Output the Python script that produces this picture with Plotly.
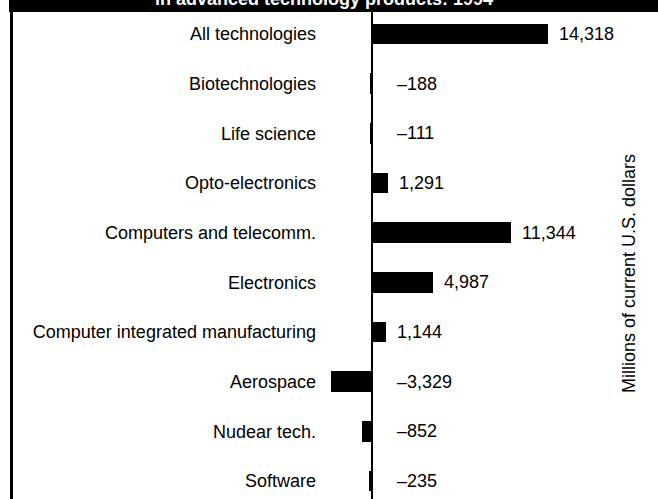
import plotly.graph_objects as go

# Trade balance by technology area, 1994 (millions of current U.S. dollars)
categories = [
    "All technologies",
    "Biotechnologies",
    "Life science",
    "Opto-electronics",
    "Computers and telecomm.",
    "Electronics",
    "Computer integrated manufacturing",
    "Aerospace",
    "Nudear tech.",
    "Software",
]
balances = [14318, -188, -111, 1291, 11344, 4987, 1144, -3329, -852, -235]
value_labels = ["14,318", "\u2013188", "\u2013111", "1,291", "11,344",
                "4,987", "1,144", "\u20133,329", "\u2013852", "\u2013235"]
title_line = "in advanced technology products: 1994"
axis_note = "Millions of current U.S. dollars"

W, H = 658, 499
ML, MR, MT, MB = 326, 30, 12, 0
plot_w = W - ML - MR
plot_h = H - MT - MB

FONT = "Liberation Sans, Arial, sans-serif"
positions = list(range(len(categories)))

fig = go.Figure(
    go.Bar(
        x=balances,
        y=positions,
        orientation="h",
        width=0.42,
        marker=dict(color="black", line=dict(width=0)),
        hoverinfo="skip",
    )
)

# value labels: right of the bar end for gains, right of zero for deficits
for pos, val, lab in zip(positions, balances, value_labels):
    fig.add_annotation(
        x=max(val, 0), y=pos, xref="x", yref="y",
        text=lab, showarrow=False,
        xanchor="left", yanchor="middle",
        xshift=9 if val > 0 else 23,
        font=dict(family=FONT, size=18, color="black"),
    )

# rotated unit note on the right
fig.add_annotation(
    x=(629 - ML) / plot_w, y=(H - 274) / plot_h,
    xref="paper", yref="paper",
    text=axis_note, textangle=-90, showarrow=False,
    xanchor="center", yanchor="middle",
    font=dict(family=FONT, size=18, color="black"),
)

# black heading band with white title text
band_top = 1 + MT / plot_h
fig.add_shape(
    type="rect", xref="paper", yref="paper",
    x0=(9 - ML) / plot_w, x1=(W - ML) / plot_w, y0=1, y1=band_top + 0.01,
    fillcolor="black", line=dict(width=0), layer="above",
)
fig.add_annotation(
    x=(324 - ML) / plot_w, y=1 + (MT + 1) / plot_h,
    xref="paper", yref="paper",
    text="<b>" + title_line + "</b>", showarrow=False,
    xanchor="center", yanchor="middle",
    font=dict(family=FONT, size=18, color="white"),
)

# left frame rule
fig.add_shape(
    type="line", xref="paper", yref="paper",
    x0=(11.5 - ML) / plot_w, x1=(11.5 - ML) / plot_w, y0=0, y1=1,
    line=dict(color="black", width=3),
)

fig.update_layout(
    width=W, height=H,
    margin=dict(l=ML, r=MR, t=MT, b=MB, pad=0),
    paper_bgcolor="white", plot_bgcolor="white",
    showlegend=False,
    bargap=0,
    xaxis=dict(
        range=[-3743, -3743 + plot_w / 0.01229],
        showgrid=False, showticklabels=False, ticks="",
        zeroline=True, zerolinecolor="black", zerolinewidth=1.5,
        showline=False, fixedrange=True,
    ),
    yaxis=dict(
        range=[9.362, -0.443],
        tickmode="array", tickvals=positions, ticktext=categories,
        showgrid=False, zeroline=False, showline=False, ticks="",
        ticklabelstandoff=9,
        tickfont=dict(family=FONT, size=18, color="black"),
        fixedrange=True,
    ),
)

fig.write_html("out.html")
